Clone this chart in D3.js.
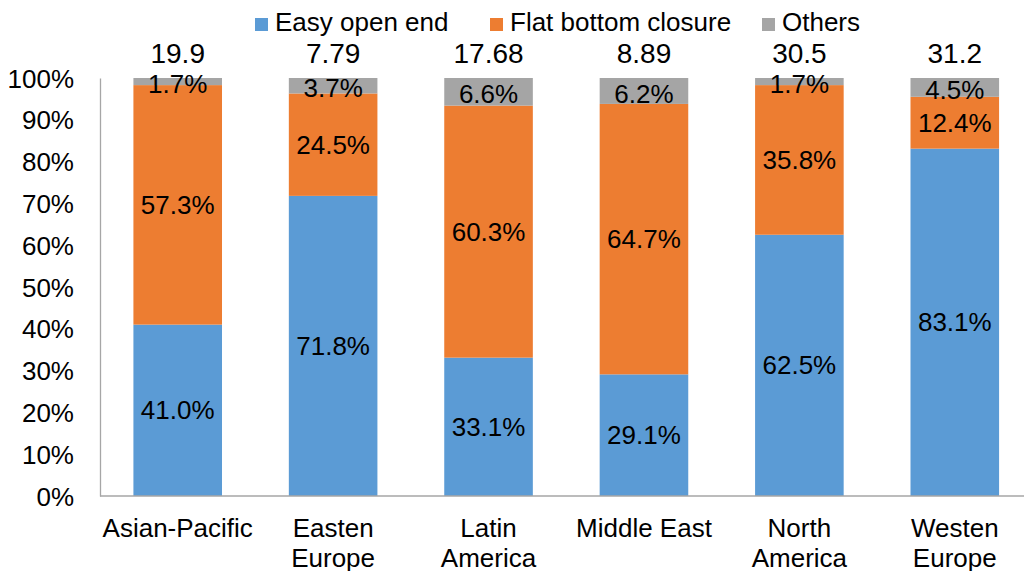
<!DOCTYPE html>
<html>
<head>
<meta charset="utf-8">
<script src="https://cdn.jsdelivr.net/npm/d3@7"></script>
<style>
  html, body { margin: 0; padding: 0; background: #fff; }
  svg { display: block; font-family: "Liberation Sans", Arial, sans-serif; }
</style>
</head>
<body>
<svg id="chart" width="1024" height="571"></svg>
<script>
// ---- data ----
const categories = ["Asian-Pacific", "Easten Europe", "Latin America", "Middle East", "North America", "Westen Europe"];
const categoryLines = [["Asian-Pacific"], ["Easten", "Europe"], ["Latin", "America"], ["Middle East"], ["North", "America"], ["Westen", "Europe"]];
const seriesNames = ["Easy open end", "Flat bottom closure", "Others"];
const easyOpenEnd = [41.0, 71.8, 33.1, 29.1, 62.5, 83.1];
const flatBottomClosure = [57.3, 24.5, 60.3, 64.7, 35.8, 12.4];
const others = [1.7, 3.7, 6.6, 6.2, 1.7, 4.5];
const totals = ["19.9", "7.79", "17.68", "8.89", "30.5", "31.2"];
const yTicks = [0, 10, 20, 30, 40, 50, 60, 70, 80, 90, 100];
const colors = ["#5B9BD5", "#ED7D31", "#A5A5A5"];

// ---- layout ----
const svg = d3.select("#chart");
const FS = 26;
const plot = { left: 100, right: 1032.5, top: 78, bottom: 496 };
const axisColor = "#A6A6A6";

const x = d3.scaleBand().domain(categories).range([plot.left, plot.right])
  .paddingInner(0.43).paddingOuter(0.215);
const y = d3.scaleLinear().domain([0, 100]).range([plot.bottom, plot.top]);

const rows = categories.map((c, i) => ({
  cat: c, s0: easyOpenEnd[i], s1: flatBottomClosure[i], s2: others[i]
}));
const stack = d3.stack().keys(["s0", "s1", "s2"]);
const layers = stack(rows);

// bars
const g = svg.append("g");
layers.forEach((layer, li) => {
  g.selectAll(null).data(layer).enter().append("rect")
    .attr("x", d => x(d.data.cat))
    .attr("width", x.bandwidth())
    .attr("y", d => y(d[1]))
    .attr("height", d => y(d[0]) - y(d[1]))
    .attr("fill", colors[li]);
});

// y axis
const yAxis = d3.axisLeft(y).tickValues(yTicks).tickSize(0).tickPadding(26)
  .tickFormat(d => d + "%");
const ya = svg.append("g").attr("transform", `translate(${plot.left},0)`).call(yAxis);
ya.select(".domain").attr("stroke", axisColor).attr("stroke-width", 1.3);
ya.selectAll("text").attr("font-size", FS).attr("font-family", "Liberation Sans, Arial, sans-serif")
  .attr("fill", "#000").attr("dy", "0.35em");

// x axis line
svg.append("line")
  .attr("x1", plot.left).attr("x2", 1024)
  .attr("y1", y(0)).attr("y2", y(0))
  .attr("stroke", axisColor).attr("stroke-width", 1.3);

// data labels
layers.forEach((layer, li) => {
  g.selectAll(null).data(layer).enter().append("text")
    .attr("x", d => x(d.data.cat) + x.bandwidth() / 2)
    .attr("y", d => (y(d[0]) + y(d[1])) / 2)
    .attr("dy", li === 2 ? "0.45em" : "0.35em")
    .attr("text-anchor", "middle")
    .attr("font-size", FS)
    .attr("fill", "#000")
    .text(d => (d[1] - d[0]).toFixed(1) + "%");
});

// totals
svg.selectAll(".total").data(categories).enter().append("text")
  .attr("class", "total")
  .attr("x", d => x(d) + x.bandwidth() / 2)
  .attr("y", 63)
  .attr("text-anchor", "middle")
  .attr("font-size", 28)
  .attr("fill", "#000")
  .text((d, i) => totals[i]);

// category labels
categories.forEach((c, i) => {
  const t = svg.append("text")
    .attr("x", x(c) + x.bandwidth() / 2)
    .attr("y", 537)
    .attr("text-anchor", "middle")
    .attr("font-size", FS)
    .attr("fill", "#000");
  categoryLines[i].forEach((ln, k) => {
    t.append("tspan").attr("x", x(c) + x.bandwidth() / 2).attr("dy", k === 0 ? 0 : 29.5).text(ln);
  });
});

// legend
const legendX = [255, 490, 762];
seriesNames.forEach((s, i) => {
  const lg = svg.append("g").attr("transform", `translate(${legendX[i]},0)`);
  lg.append("rect").attr("x", 0).attr("y", 18).attr("width", 13).attr("height", 13).attr("fill", colors[i]);
  lg.append("text").attr("x", 20).attr("y", 31).attr("font-size", FS).attr("fill", "#000").text(s);
});
</script>
</body>
</html>
